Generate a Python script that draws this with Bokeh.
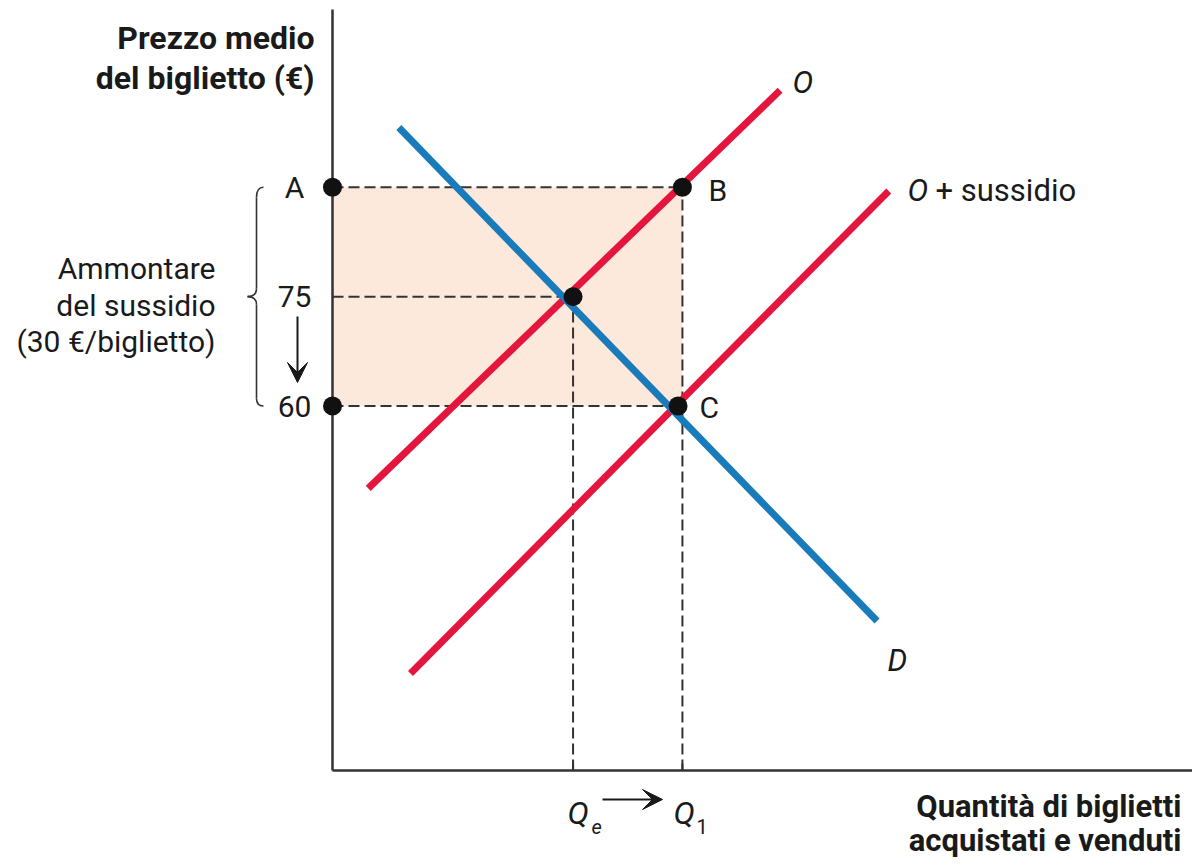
from bokeh.plotting import figure
from bokeh.models import Range1d, Label, Arrow, VeeHead
from bokeh.embed import file_html
from bokeh.resources import INLINE

# ---------------- data ----------------
price_levels = [90, 75, 60]          # A, equilibrium price, subsidised price
price_labels = ["A", "75", "60"]
q_e, q_1 = 33, 48                    # quantities before / after subsidy
supply_q = [4.9, 61.4]
supply_p = [48.7, 103.3]
supply_sub_q = [10.7, 76.3]
supply_sub_p = [23.3, 89.5]
demand_q = [9.1, 74.7]
demand_p = [98.2, 30.5]
points_q = [0, 48, 33, 47.4, 0]
points_p = [90, 90, 75, 60, 60]
axis_p = 10                          # price level where the quantity axis sits

# ---------------- layout helpers ----------------
W, H = 1192, 865
K = 7.29                             # pixels per unit
OX, OY = 332, 770                    # axis origin in canvas pixels


def px(xp):   # canvas x pixel -> quantity
    return (xp - OX) / K


def py(yp):   # canvas y pixel -> price
    return axis_p + (OY - yp) / K


p = figure(width=W, height=H, output_backend="svg", toolbar_location=None,
           x_range=Range1d(px(0), px(W)), y_range=Range1d(py(H), py(0)),
           min_border=0, min_border_left=0, min_border_right=0,
           min_border_top=0, min_border_bottom=0)
p.axis.visible = False
p.grid.visible = False
p.outline_line_color = None
p.background_fill_color = "white"
p.border_fill_color = "white"

RED = "#e4163d"
BLUE = "#1a7bbb"
DASH = "#333333"
INK = "#1a1a1a"
FN = "Roboto"

# shaded subsidy area
p.quad(left=0, right=q_1, bottom=price_levels[2], top=price_levels[0],
       fill_color="#fde8dc", line_color=None)

# dashed guides
p.segment(x0=[0, 0, 0], y0=price_levels, x1=[q_1, q_e, q_1], y1=price_levels,
          line_color=DASH, line_width=2, line_dash="11 5")
p.segment(x0=[q_e, q_1], y0=[axis_p, axis_p], x1=[q_e, q_1],
          y1=[price_levels[1], price_levels[0]],
          line_color=DASH, line_width=2, line_dash="11 5")

# axes
p.line([0, 0], [axis_p, py(9)], line_color="#333333", line_width=2.5)
p.line([0, px(1192)], [axis_p, axis_p], line_color="#333333", line_width=2.5)
p.segment(x0=[q_e, q_1], y0=[axis_p, axis_p], x1=[q_e, q_1],
          y1=[axis_p + 7 / K, axis_p + 7 / K], line_color="#333333", line_width=2)

# curves
p.line(supply_q, supply_p, line_color=RED, line_width=7)
p.line(supply_sub_q, supply_sub_p, line_color=RED, line_width=7)
p.line(demand_q, demand_p, line_color=BLUE, line_width=7)

# points
p.scatter(points_q, points_p, size=19, fill_color="#111111", line_color=None)

# brace
bx = px(256)
tip = px(247)
hook = px(263)
p.quadratic(x0=[hook, bx, tip, bx], y0=[90, py(288), 75, py(398)],
            x1=[bx, tip, bx, hook], y1=[py(197), 75, py(304), 60],
            cx=[bx, bx, bx, bx], cy=[90, py(296), py(296), 60],
            line_color="#333333", line_width=1.6)
p.segment(x0=[bx, bx], y0=[py(197), py(304)], x1=[bx, bx], y1=[py(288), py(398)],
          line_color="#333333", line_width=1.6)

# arrows
p.add_layout(Arrow(x_start=px(297), y_start=py(316), x_end=px(297), y_end=py(382),
                   line_color=INK, line_width=2,
                   end=VeeHead(size=20, fill_color=INK, line_color=INK)))
p.add_layout(Arrow(x_start=px(602), y_start=py(799), x_end=px(662), y_end=py(799),
                   line_color=INK, line_width=2,
                   end=VeeHead(size=20, fill_color=INK, line_color=INK)))


def lab(x, y, text, size, align="left", style="normal", base="alphabetic"):
    p.add_layout(Label(x=px(x), y=py(y), text=text, text_align=align,
                       text_baseline=base, text_font=FN,
                       text_font_size=f"{size}px", text_font_style=style,
                       text_color=INK))


# axis titles
lab(314, 37, "Prezzo medio", 32, "right", "bold")
lab(314, 77, "del biglietto (€)", 32, "right", "bold")
lab(1181, 806, "Quantità di biglietti", 31, "right", "bold")
lab(1181, 840, "acquistati e venduti", 31, "right", "bold")

# subsidy note
lab(215, 268, "Ammontare", 30, "right")
lab(215, 305, "del sussidio", 30, "right")
lab(215, 341, "(30 €/biglietto)", 30, "right")

# price labels
for lvl, txt in zip(price_levels, price_labels):
    p.add_layout(Label(x=px(294), y=lvl, text=txt, text_align="center",
                       text_baseline="middle", text_font=FN,
                       text_font_size="30px", text_color=INK))

# point labels
lab(708, 190, "B", 30, base="middle")
lab(699, 407, "C", 30, base="middle")

# curve labels
lab(792, 82, "O", 31, style="italic")
lab(907, 190, "O", 31, style="italic")
lab(935, 190, "+ sussidio", 31)
lab(887, 660, "D", 31, style="italic")

# quantity labels
lab(567, 812, "Q", 32, style="italic")
lab(591, 826, "e", 20, style="italic")
lab(673, 812, "Q", 32, style="italic")
lab(696, 826, "1", 20)

open("out.html", "w").write(file_html(p, INLINE))
